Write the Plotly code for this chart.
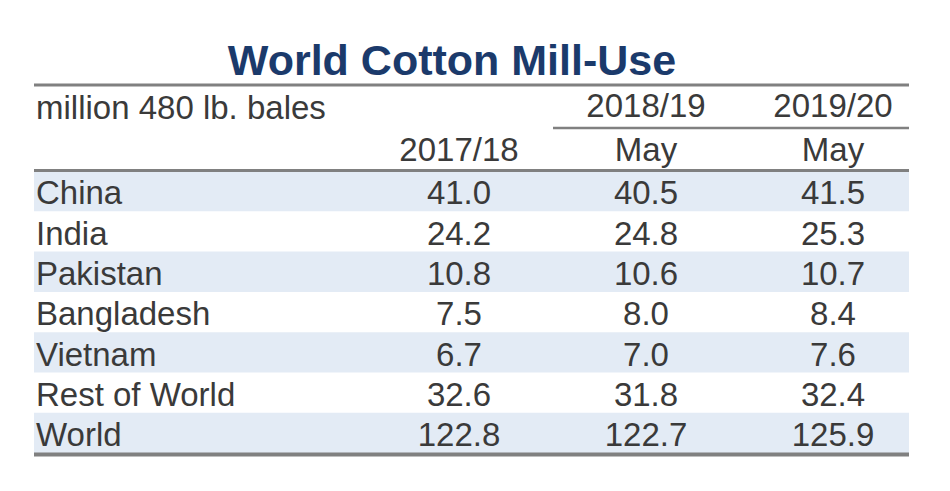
import plotly.graph_objects as go

title = "World Cotton Mill-Use"
unit_label = "million 480 lb. bales"
col_top = ["", "2018/19", "2019/20"]
col_bottom = ["2017/18", "May", "May"]
countries = ["China", "India", "Pakistan", "Bangladesh", "Vietnam", "Rest of World", "World"]
v_2017_18 = [41.0, 24.2, 10.8, 7.5, 6.7, 32.6, 122.8]
v_2018_19 = [40.5, 24.8, 10.6, 8.0, 7.0, 31.8, 122.7]
v_2019_20 = [41.5, 25.3, 10.7, 8.4, 7.6, 32.4, 125.9]

W, H = 950, 491
OFF = 8  # page body margin
LEFT, RIGHT = 34, 909
COL_X = [459, 646, 833]
LABEL_X = 36
ROW_TOP, ROW_H = 171, 40.3
TEXT_DY = 5
FONT = "Liberation Sans, Arial, sans-serif"
TXT = "#3a3a3a"
SHADE = "#e3ebf5"
LINE = "#808080"
FS = 33

fig = go.Figure()

row_y = [ROW_TOP + ROW_H * (i + 0.5) for i in range(len(countries))]
text_y = [y + TEXT_DY for y in row_y]

shapes = []
for i in range(len(countries)):
    if i % 2 == 0:
        shapes.append(dict(type="rect", xref="x", yref="y", x0=LEFT, x1=RIGHT,
                           y0=ROW_TOP + ROW_H * i, y1=ROW_TOP + ROW_H * (i + 1),
                           fillcolor=SHADE, line=dict(width=0), layer="below"))
shapes += [
    dict(type="line", x0=LEFT, x1=RIGHT, y0=85, y1=85, line=dict(color=LINE, width=3)),
    dict(type="line", x0=553, x1=RIGHT, y0=128, y1=128, line=dict(color=LINE, width=2.5)),
    dict(type="line", x0=LEFT, x1=RIGHT, y0=170.5, y1=170.5, line=dict(color=LINE, width=3)),
    dict(type="line", x0=LEFT, x1=RIGHT, y0=454.5, y1=454.5, line=dict(color=LINE, width=4)),
]

# country labels
fig.add_trace(go.Scatter(
    x=[LABEL_X] * len(countries), y=text_y, text=countries, mode="text",
    textposition="middle right", textfont=dict(family=FONT, size=FS, color=TXT),
    hoverinfo="skip", showlegend=False))

for cx, vals in zip(COL_X, [v_2017_18, v_2018_19, v_2019_20]):
    fig.add_trace(go.Scatter(
        x=[cx] * len(vals), y=text_y, text=[f"{v:.1f}" for v in vals], mode="text",
        textposition="middle center", textfont=dict(family=FONT, size=FS, color=TXT),
        hoverinfo="skip", showlegend=False))

# header texts
fig.add_trace(go.Scatter(
    x=[LABEL_X], y=[111], text=[unit_label], mode="text", textposition="middle right",
    textfont=dict(family=FONT, size=FS, color=TXT), hoverinfo="skip", showlegend=False))
fig.add_trace(go.Scatter(
    x=COL_X, y=[109] * 3, text=col_top, mode="text", textposition="middle center",
    textfont=dict(family=FONT, size=FS, color=TXT), hoverinfo="skip", showlegend=False))
fig.add_trace(go.Scatter(
    x=COL_X, y=[153] * 3, text=col_bottom, mode="text", textposition="middle center",
    textfont=dict(family=FONT, size=FS, color=TXT), hoverinfo="skip", showlegend=False))
fig.add_trace(go.Scatter(
    x=[452], y=[64], text=[f"<b>{title}</b>"], mode="text", textposition="middle center",
    textfont=dict(family=FONT, size=43, color="#1b3a6b"), hoverinfo="skip", showlegend=False))

fig.update_layout(
    width=W, height=H, margin=dict(l=0, r=0, t=0, b=0),
    paper_bgcolor="white", plot_bgcolor="white",
    xaxis=dict(range=[OFF, W + OFF], visible=False, fixedrange=True),
    yaxis=dict(range=[H + OFF, OFF], visible=False, fixedrange=True),
    shapes=shapes,
)

fig.write_html("out.html")
